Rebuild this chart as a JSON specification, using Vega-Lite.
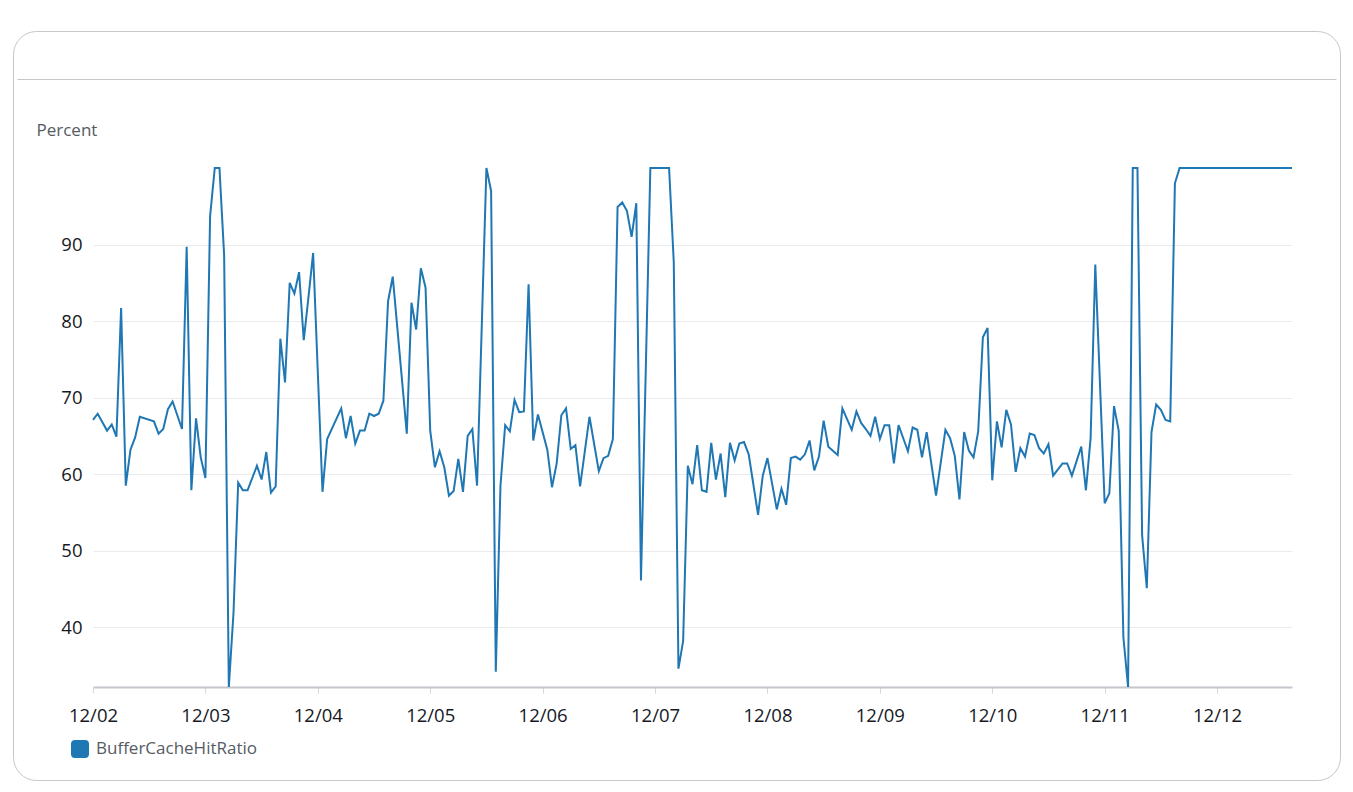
{
  "$schema": "https://vega.github.io/schema/vega-lite/v6.json",
  "width": 1327,
  "height": 749,
  "autosize": {"type": "none"},
  "padding": {"left": 13, "top": 31, "right": 13, "bottom": 12},
  "background": "#ffffff",
  "config": {
    "font": "Open Sans",
    "view": {"stroke": "#c6c6cd", "strokeWidth": 1, "cornerRadius": 23, "fill": "#ffffff"}
  },
  "layer": [
    {
      "data": {"values": [
        {"time":"2024-12-02T00:00","value":67.1},{"time":"2024-12-02T01:00","value":67.9},{"time":"2024-12-02T03:00","value":65.7},{"time":"2024-12-02T04:00","value":66.5},{"time":"2024-12-02T05:00","value":64.9},{"time":"2024-12-02T06:00","value":81.7},{"time":"2024-12-02T07:00","value":58.5},{"time":"2024-12-02T08:00","value":63.2},{"time":"2024-12-02T09:00","value":64.8},{"time":"2024-12-02T10:00","value":67.5},{"time":"2024-12-02T13:00","value":66.9},{"time":"2024-12-02T14:00","value":65.3},{"time":"2024-12-02T15:00","value":65.9},{"time":"2024-12-02T16:00","value":68.5},{"time":"2024-12-02T17:00","value":69.5},{"time":"2024-12-02T19:00","value":65.9},{"time":"2024-12-02T20:00","value":89.7},{"time":"2024-12-02T21:00","value":57.9},{"time":"2024-12-02T22:00","value":67.3},{"time":"2024-12-02T23:00","value":62.2},
        {"time":"2024-12-03T00:00","value":59.5},{"time":"2024-12-03T01:00","value":93.7},{"time":"2024-12-03T02:00","value":100},{"time":"2024-12-03T03:00","value":100},{"time":"2024-12-03T04:00","value":88.6},{"time":"2024-12-03T05:00","value":32.2},{"time":"2024-12-03T06:00","value":41.9},{"time":"2024-12-03T07:00","value":58.9},{"time":"2024-12-03T08:00","value":57.9},{"time":"2024-12-03T09:00","value":57.9},{"time":"2024-12-03T11:00","value":61.1},{"time":"2024-12-03T12:00","value":59.3},{"time":"2024-12-03T13:00","value":62.9},{"time":"2024-12-03T14:00","value":57.6},{"time":"2024-12-03T15:00","value":58.4},{"time":"2024-12-03T16:00","value":77.7},{"time":"2024-12-03T17:00","value":72.0},{"time":"2024-12-03T18:00","value":85.0},{"time":"2024-12-03T19:00","value":83.6},{"time":"2024-12-03T20:00","value":86.4},{"time":"2024-12-03T21:00","value":77.5},{"time":"2024-12-03T22:00","value":83.1},{"time":"2024-12-03T23:00","value":88.9},
        {"time":"2024-12-04T01:00","value":57.7},{"time":"2024-12-04T02:00","value":64.6},{"time":"2024-12-04T05:00","value":68.6},{"time":"2024-12-04T06:00","value":64.7},{"time":"2024-12-04T07:00","value":67.6},{"time":"2024-12-04T08:00","value":64.0},{"time":"2024-12-04T09:00","value":65.7},{"time":"2024-12-04T10:00","value":65.7},{"time":"2024-12-04T11:00","value":67.9},{"time":"2024-12-04T12:00","value":67.6},{"time":"2024-12-04T13:00","value":67.9},{"time":"2024-12-04T14:00","value":69.6},{"time":"2024-12-04T15:00","value":82.6},{"time":"2024-12-04T16:00","value":85.8},{"time":"2024-12-04T19:00","value":65.3},{"time":"2024-12-04T20:00","value":82.4},{"time":"2024-12-04T21:00","value":78.9},{"time":"2024-12-04T22:00","value":86.9},{"time":"2024-12-04T23:00","value":84.4},
        {"time":"2024-12-05T00:00","value":65.7},{"time":"2024-12-05T01:00","value":60.9},{"time":"2024-12-05T02:00","value":63.0},{"time":"2024-12-05T03:00","value":60.9},{"time":"2024-12-05T04:00","value":57.2},{"time":"2024-12-05T05:00","value":57.8},{"time":"2024-12-05T06:00","value":62.0},{"time":"2024-12-05T07:00","value":57.7},{"time":"2024-12-05T08:00","value":65.0},{"time":"2024-12-05T09:00","value":65.9},{"time":"2024-12-05T10:00","value":58.5},{"time":"2024-12-05T12:00","value":100},{"time":"2024-12-05T13:00","value":97.0},{"time":"2024-12-05T14:00","value":34.2},{"time":"2024-12-05T15:00","value":58.5},{"time":"2024-12-05T16:00","value":66.4},{"time":"2024-12-05T17:00","value":65.6},{"time":"2024-12-05T18:00","value":69.7},{"time":"2024-12-05T19:00","value":68.1},{"time":"2024-12-05T20:00","value":68.2},{"time":"2024-12-05T21:00","value":84.8},{"time":"2024-12-05T22:00","value":64.4},{"time":"2024-12-05T23:00","value":67.8},
        {"time":"2024-12-06T01:00","value":63.2},{"time":"2024-12-06T02:00","value":58.3},{"time":"2024-12-06T03:00","value":61.4},{"time":"2024-12-06T04:00","value":67.7},{"time":"2024-12-06T05:00","value":68.6},{"time":"2024-12-06T06:00","value":63.3},{"time":"2024-12-06T07:00","value":63.8},{"time":"2024-12-06T08:00","value":58.4},{"time":"2024-12-06T10:00","value":67.5},{"time":"2024-12-06T12:00","value":60.4},{"time":"2024-12-06T13:00","value":62.1},{"time":"2024-12-06T14:00","value":62.4},{"time":"2024-12-06T15:00","value":64.6},{"time":"2024-12-06T16:00","value":94.9},{"time":"2024-12-06T17:00","value":95.5},{"time":"2024-12-06T18:00","value":94.4},{"time":"2024-12-06T19:00","value":91.0},{"time":"2024-12-06T20:00","value":95.4},{"time":"2024-12-06T21:00","value":46.1},{"time":"2024-12-06T23:00","value":100},
        {"time":"2024-12-07T00:00","value":100},{"time":"2024-12-07T01:00","value":100},{"time":"2024-12-07T02:00","value":100},{"time":"2024-12-07T03:00","value":100},{"time":"2024-12-07T04:00","value":87.7},{"time":"2024-12-07T05:00","value":34.6},{"time":"2024-12-07T06:00","value":38.2},{"time":"2024-12-07T07:00","value":61.1},{"time":"2024-12-07T08:00","value":58.7},{"time":"2024-12-07T09:00","value":63.8},{"time":"2024-12-07T10:00","value":57.9},{"time":"2024-12-07T11:00","value":57.7},{"time":"2024-12-07T12:00","value":64.1},{"time":"2024-12-07T13:00","value":59.3},{"time":"2024-12-07T14:00","value":62.7},{"time":"2024-12-07T15:00","value":57.0},{"time":"2024-12-07T16:00","value":64.1},{"time":"2024-12-07T17:00","value":61.8},{"time":"2024-12-07T18:00","value":64.0},{"time":"2024-12-07T19:00","value":64.2},{"time":"2024-12-07T20:00","value":62.6},{"time":"2024-12-07T22:00","value":54.7},{"time":"2024-12-07T23:00","value":59.8},
        {"time":"2024-12-08T00:00","value":62.1},{"time":"2024-12-08T02:00","value":55.4},{"time":"2024-12-08T03:00","value":58.1},{"time":"2024-12-08T04:00","value":56.0},{"time":"2024-12-08T05:00","value":62.1},{"time":"2024-12-08T06:00","value":62.3},{"time":"2024-12-08T07:00","value":61.9},{"time":"2024-12-08T08:00","value":62.6},{"time":"2024-12-08T09:00","value":64.4},{"time":"2024-12-08T10:00","value":60.5},{"time":"2024-12-08T11:00","value":62.3},{"time":"2024-12-08T12:00","value":67.0},{"time":"2024-12-08T13:00","value":63.6},{"time":"2024-12-08T15:00","value":62.5},{"time":"2024-12-08T16:00","value":68.6},{"time":"2024-12-08T17:00","value":67.2},{"time":"2024-12-08T18:00","value":65.8},{"time":"2024-12-08T19:00","value":68.2},{"time":"2024-12-08T20:00","value":66.7},{"time":"2024-12-08T21:00","value":65.9},{"time":"2024-12-08T22:00","value":65.0},{"time":"2024-12-08T23:00","value":67.5},
        {"time":"2024-12-09T00:00","value":64.6},{"time":"2024-12-09T01:00","value":66.4},{"time":"2024-12-09T02:00","value":66.4},{"time":"2024-12-09T03:00","value":61.4},{"time":"2024-12-09T04:00","value":66.4},{"time":"2024-12-09T05:00","value":64.7},{"time":"2024-12-09T06:00","value":63.0},{"time":"2024-12-09T07:00","value":66.1},{"time":"2024-12-09T08:00","value":65.8},{"time":"2024-12-09T09:00","value":62.2},{"time":"2024-12-09T10:00","value":65.5},{"time":"2024-12-09T12:00","value":57.2},{"time":"2024-12-09T14:00","value":65.8},{"time":"2024-12-09T15:00","value":64.7},{"time":"2024-12-09T16:00","value":62.4},{"time":"2024-12-09T17:00","value":56.7},{"time":"2024-12-09T18:00","value":65.5},{"time":"2024-12-09T19:00","value":63.1},{"time":"2024-12-09T20:00","value":62.2},{"time":"2024-12-09T21:00","value":65.6},{"time":"2024-12-09T22:00","value":77.9},{"time":"2024-12-09T23:00","value":79.1},
        {"time":"2024-12-10T00:00","value":59.2},{"time":"2024-12-10T01:00","value":66.9},{"time":"2024-12-10T02:00","value":63.5},{"time":"2024-12-10T03:00","value":68.4},{"time":"2024-12-10T04:00","value":66.5},{"time":"2024-12-10T05:00","value":60.3},{"time":"2024-12-10T06:00","value":63.4},{"time":"2024-12-10T07:00","value":62.3},{"time":"2024-12-10T08:00","value":65.3},{"time":"2024-12-10T09:00","value":65.1},{"time":"2024-12-10T10:00","value":63.4},{"time":"2024-12-10T11:00","value":62.7},{"time":"2024-12-10T12:00","value":63.9},{"time":"2024-12-10T13:00","value":59.8},{"time":"2024-12-10T15:00","value":61.4},{"time":"2024-12-10T16:00","value":61.4},{"time":"2024-12-10T17:00","value":59.8},{"time":"2024-12-10T19:00","value":63.6},{"time":"2024-12-10T20:00","value":57.9},{"time":"2024-12-10T21:00","value":64.7},{"time":"2024-12-10T22:00","value":87.4},
        {"time":"2024-12-11T00:00","value":56.2},{"time":"2024-12-11T01:00","value":57.5},{"time":"2024-12-11T02:00","value":68.9},{"time":"2024-12-11T03:00","value":65.7},{"time":"2024-12-11T04:00","value":38.7},{"time":"2024-12-11T05:00","value":32.2},{"time":"2024-12-11T06:00","value":100},{"time":"2024-12-11T07:00","value":100},{"time":"2024-12-11T08:00","value":52.0},{"time":"2024-12-11T09:00","value":45.1},{"time":"2024-12-11T10:00","value":65.5},{"time":"2024-12-11T11:00","value":69.1},{"time":"2024-12-11T12:00","value":68.4},{"time":"2024-12-11T13:00","value":67.1},{"time":"2024-12-11T14:00","value":66.9},{"time":"2024-12-11T15:00","value":98.0},{"time":"2024-12-11T16:00","value":100},{"time":"2024-12-11T17:00","value":100},{"time":"2024-12-11T18:00","value":100},{"time":"2024-12-11T19:00","value":100},{"time":"2024-12-11T20:00","value":100},{"time":"2024-12-11T21:00","value":100},{"time":"2024-12-11T22:00","value":100},{"time":"2024-12-11T23:00","value":100},
        {"time":"2024-12-12T00:00","value":100},{"time":"2024-12-12T01:00","value":100},{"time":"2024-12-12T02:00","value":100},{"time":"2024-12-12T03:00","value":100},{"time":"2024-12-12T04:00","value":100},{"time":"2024-12-12T05:00","value":100},{"time":"2024-12-12T06:00","value":100},{"time":"2024-12-12T07:00","value":100},{"time":"2024-12-12T08:00","value":100},{"time":"2024-12-12T09:00","value":100},{"time":"2024-12-12T10:00","value":100},{"time":"2024-12-12T11:00","value":100},{"time":"2024-12-12T12:00","value":100},{"time":"2024-12-12T13:00","value":100},{"time":"2024-12-12T14:00","value":100},{"time":"2024-12-12T15:00","value":100},{"time":"2024-12-12T16:00","value":100}
      ]},
      "mark": {"type": "line", "strokeWidth": 2, "strokeJoin": "miter"},
      "encoding": {
        "x": {
          "field": "time", "type": "temporal",
          "scale": {"range": [80, 1279], "nice": false},
          "axis": {
            "format": "%m/%d", "tickCount": {"interval": "day", "step": 1},
            "offset": -93, "domainColor": "#c6c6cd", "domainWidth": 2,
            "tickColor": "#d5d9dd", "tickSize": 6, "tickWidth": 1,
            "labelFontSize": 18.5, "labelColor": "#16191f", "labelPadding": 13,
            "labelFlush": false, "labelOverlap": false,
            "grid": false, "title": null
          }
        },
        "y": {
          "field": "value", "type": "quantitative",
          "scale": {"domain": [32.2, 100], "range": [656, 137], "nice": false, "zero": false},
          "axis": {
            "orient": "left", "offset": -80, "domain": false, "ticks": false, "tickSize": 0,
            "labelPadding": 11, "labelFontSize": 18.5, "labelColor": "#16191f",
            "values": [40, 50, 60, 70, 80, 90],
            "grid": true, "gridColor": "#e9ebed", "gridWidth": 1,
            "title": "Percent", "titleAngle": 0, "titleAlign": "left", "titleBaseline": "alphabetic",
            "titleX": -57, "titleY": 104, "titleFontSize": 17, "titleFontWeight": "normal", "titleColor": "#545b64"
          }
        },
        "color": {
          "datum": "BufferCacheHitRatio",
          "scale": {"range": ["#1f77b4"]},
          "legend": {
            "orient": "none", "legendX": 58, "legendY": 709, "title": null, "padding": 0,
            "symbolType": "M-1,-0.55Q-1,-1,-0.55,-1L0.55,-1Q1,-1,1,-0.55L1,0.55Q1,1,0.55,1L-0.55,1Q-1,1,-1,0.55Z",
            "symbolSize": 324, "symbolFillColor": "#1f77b4", "symbolStrokeWidth": 0, "symbolOpacity": 1,
            "labelFontSize": 17, "labelColor": "#545b64", "labelOffset": 7, "labelLimit": 400,
            "encode": {"symbols": {"update": {"fill": {"value": "#1f77b4"}, "stroke": {"value": "#1f77b4"}, "strokeWidth": {"value": 0}}}}
          }
        }
      }
    },
    {
      "data": {"values": [{"edge": 0}, {"edge": 1}]},
      "mark": {"type": "point", "opacity": 0},
      "encoding": {
        "x": {
          "field": "edge", "type": "quantitative",
          "scale": {"domain": [0, 1], "range": [4, 1323], "nice": false, "zero": false},
          "axis": {"orient": "top", "offset": -48, "domain": true, "domainColor": "#c6c6cd", "domainWidth": 1, "ticks": false, "labels": false, "grid": false, "title": null}
        }
      }
    }
  ],
  "resolve": {"scale": {"x": "independent"}, "axis": {"x": "independent"}}
}
